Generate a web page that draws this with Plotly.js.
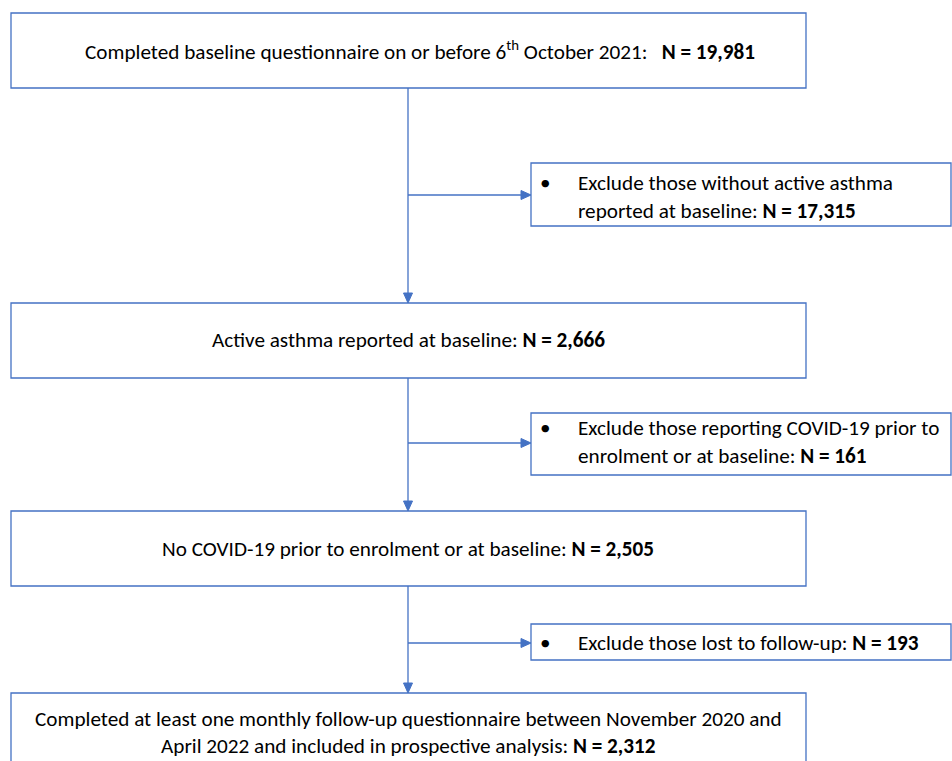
<!DOCTYPE html>
<html>
<head>
<meta charset="utf-8">
<script src="https://cdn.plot.ly/plotly-3.0.1.min.js"></script>
<style>html,body{margin:0;padding:0;background:#fff;}#chart{width:952px;height:761px;}</style>
</head>
<body>
<div id="chart"></div>
<script>
// ---- data ----
const stepLabels = [
  "Completed baseline questionnaire on or before 6<sup>th</sup> October 2021:   ",
  "Active asthma reported at baseline: ",
  "No COVID-19 prior to enrolment or at baseline: ",
  "Completed at least one monthly follow-up questionnaire between November 2020 and<br>April 2022 and included in prospective analysis: "
];
const stepN = ["19,981", "2,666", "2,505", "2,312"];
const exclLabels = [
  "Exclude those without active asthma<br>reported at baseline: ",
  "Exclude those reporting COVID-19 prior to<br>enrolment or at baseline: ",
  "Exclude those lost to follow-up: "
];
const exclN = ["17,315", "161", "193"];

// ---- layout geometry (pixels) ----
const W = 952, H = 761;
const BLUE = "#4472C4";
const FONT = "Carlito, 'Liberation Sans Narrow', 'Liberation Sans', sans-serif";
const FS = 21.2;
const mainBoxes = [[11, 806, 13, 88], [11, 806, 303, 378], [11, 806, 511, 586], [11, 806, 693, 775]];
const mainTextX = [420, 408, 408, 408];
const mainTextY = [[50], [340], [549], [719, 746]];
const exclBoxes = [[531, 951, 163, 226], [531, 951, 413, 475], [531, 951, 624, 660]];
const exclTextY = [[183, 211], [428, 456], [643]];
const spineX = 408;
const branchY = [195, 443, 643];
const AL = 10, AW = 4.5; // arrowhead length / half-width

const shapes = [];
const annotations = [];

function rect(b) {
  shapes.push({type: "rect", xref: "x", yref: "y", x0: b[0], x1: b[1], y0: b[2], y1: b[3],
    line: {color: BLUE, width: 1.3}, fillcolor: "rgba(0,0,0,0)"});
}
function line(x0, y0, x1, y1) {
  shapes.push({type: "line", xref: "x", yref: "y", x0: x0, y0: y0, x1: x1, y1: y1,
    line: {color: BLUE, width: 1.3}});
}
function tri(path) {
  shapes.push({type: "path", xref: "x", yref: "y", path: path,
    fillcolor: BLUE, line: {color: BLUE, width: 1}});
}
function label(x, y, t, anchor) {
  annotations.push({x: x, y: y, xref: "x", yref: "y", text: t, showarrow: false,
    xanchor: anchor, yanchor: "middle", font: {family: FONT, size: FS, color: "#000"}});
}

mainBoxes.forEach((b, i) => {
  rect(b);
  const lines = (stepLabels[i] + "<b>N = " + stepN[i] + "</b>").split("<br>");
  lines.forEach((t, j) => label(mainTextX[i], mainTextY[i][j], t, "center"));
});

exclBoxes.forEach((b, i) => {
  rect(b);
  label(545, exclTextY[i][0], "•", "center");
  const lines = (exclLabels[i] + "<b>N = " + exclN[i] + "</b>").split("<br>");
  lines.forEach((t, j) => label(576, exclTextY[i][j], t, "left"));
});

for (let i = 0; i < mainBoxes.length - 1; i++) {
  const yTop = mainBoxes[i][3], yBot = mainBoxes[i + 1][2];
  line(spineX, yTop, spineX, yBot - AL);
  tri(`M ${spineX - AW},${yBot - AL} L ${spineX + AW},${yBot - AL} L ${spineX},${yBot} Z`);
  const xe = exclBoxes[i][0], yb = branchY[i];
  line(spineX, yb, xe - AL, yb);
  tri(`M ${xe - AL},${yb - AW} L ${xe - AL},${yb + AW} L ${xe},${yb} Z`);
}

const layout = {
  width: W, height: H,
  margin: {l: 0, r: 0, t: 0, b: 0},
  paper_bgcolor: "#fff", plot_bgcolor: "#fff",
  xaxis: {range: [0, W], visible: false, fixedrange: true},
  yaxis: {range: [H, 0], visible: false, fixedrange: true},
  shapes: shapes,
  annotations: annotations,
  showlegend: false
};

Plotly.newPlot("chart", [], layout, {displayModeBar: false, staticPlot: true});
</script>
</body>
</html>
